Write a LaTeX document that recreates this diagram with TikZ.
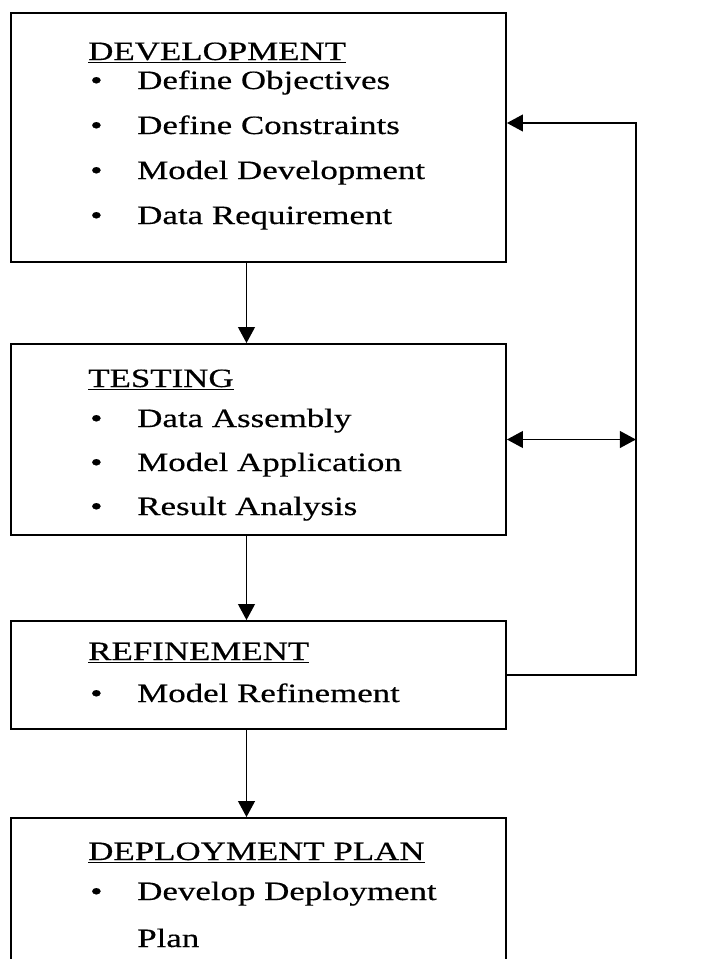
\documentclass[tikz,border=0pt]{standalone}
\usepackage{fontspec}
\setmainfont{Liberation Serif}[FakeBold=0.4]
\usetikzlibrary{arrows.meta}
\newcommand{\widetext}[1]{\scalebox{1.32}[1]{#1}}
\tikzset{
  stagebox/.style={
    draw=black,
    line width=1.3pt,
    minimum width=12.375cm,
    inner sep=0pt
  },
  stagetext/.style={
    anchor=base west,
    inner sep=0pt,
    font=\fontsize{18.8pt}{22pt}\selectfont
  },
  flowarrow/.style={
    -{Triangle[length=0.4cm,width=0.42cm]},
    line width=1.1pt
  },
  bothways/.style={
    flowarrow,
    {Triangle[length=0.4cm,width=0.42cm]}-{Triangle[length=0.4cm,width=0.42cm]}
  }
}

\begin{document}
\begin{tikzpicture}
    \useasboundingbox (0,0) rectangle (17.825,-23.975);
    \clip (0,0) rectangle (17.825,-23.975);

    \node[stagebox, minimum height=6.225cm] (dev) at (6.4625,-3.4375) {};
    \node[stagebox, minimum height=4.775cm] (test) at (6.4625,-10.9875) {};
    \node[stagebox, minimum height=2.7cm] (refine) at (6.4625,-16.875) {};
    \node[stagebox, minimum height=4.05cm] (deploy) at (6.4625,-22.475) {};

    \node[stagetext] (devtitle) at (2.2,-1.5) {\widetext{\underline{DEVELOPMENT}}};
    \foreach \txt [count=\i] in {Define Objectives, Define Constraints, Model Development, Data Requirement}
        \node[stagetext] (dev-\i) at (2.25,{-2.225-1.125*(\i-1)}) {\makebox[1.175cm][l]{\widetext{\textbullet}}\widetext{\txt}};

    \node[stagetext] (testtitle) at (2.2,-9.675) {\widetext{\underline{TESTING}}};
    \foreach \txt [count=\i] in {Data Assembly, Model Application, Result Analysis}
        \node[stagetext] (test-\i) at (2.25,{-10.675-1.1*(\i-1)}) {\makebox[1.175cm][l]{\widetext{\textbullet}}\widetext{\txt}};

    \node[stagetext] (refinetitle) at (2.2,-16.5) {\widetext{\underline{REFINEMENT}}};
    \node[stagetext] (refine-1) at (2.25,-17.55) {\makebox[1.175cm][l]{\widetext{\textbullet}}\widetext{Model Refinement}};

    \node[stagetext] (deploytitle) at (2.2,-21.5) {\widetext{\underline{DEPLOYMENT PLAN}}};
    \node[stagetext] (deploy-1) at (2.25,-22.5) {\makebox[1.175cm][l]{\widetext{\textbullet}}\widetext{Develop Deployment}};
    \node[stagetext] (deploy-2) at (3.425,-23.675) {\widetext{Plan}};

    \draw[flowarrow] ([xshift=-0.3cm]dev.south) -- ([xshift=-0.3cm]test.north);
    \draw[flowarrow] ([xshift=-0.3cm]test.south) -- ([xshift=-0.3cm]refine.north);
    \draw[flowarrow] ([xshift=-0.3cm]refine.south) -- ([xshift=-0.3cm]deploy.north);
    \draw[flowarrow] (refine.east) -- ++(3.225,0) coordinate (loop) |- ([yshift=0.3625cm]dev.east);
    \draw[bothways] (test.east) -- (test.east -| loop);
\end{tikzpicture}
\end{document}
